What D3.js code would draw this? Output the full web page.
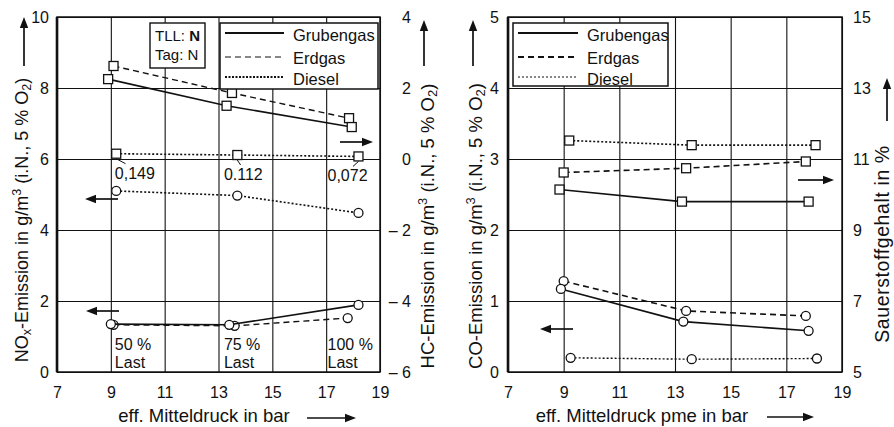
<!DOCTYPE html>
<html><head><meta charset="utf-8">
<script src="https://cdn.jsdelivr.net/npm/d3@7"></script>
<style>
body{margin:0;background:#fff}
svg{display:block}
text{font-family:"Liberation Sans",Arial,Helvetica,sans-serif;fill:#111}
</style>
</head><body>
<svg id="c" width="894" height="427"></svg>
<script>
// ---------- data ----------
const xTicks = [7, 9, 11, 13, 15, 17, 19];
const noxTicks = [0, 2, 4, 6, 8, 10];
const hcTicks = [-6, -4, -2, 0, 2, 4];
const coTicks = [0, 1, 2, 3, 4, 5];
const o2Ticks = [5, 7, 9, 11, 13, 15];
const seriesNames = ["Grubengas", "Erdgas", "Diesel"];

// left chart: NOx (left axis, circles)
const noxGrubPme = [9.0, 13.4, 18.2];
const noxGrub = [1.35, 1.33, 1.89];
const noxErdPme = [9.1, 13.6, 17.8];
const noxErd = [1.33, 1.30, 1.52];
const noxDieselPme = [9.2, 13.7, 18.2];
const noxDiesel = [5.10, 4.97, 4.48];
// left chart: HC (right axis, squares)
const hcGrubPme = [8.9, 13.3, 17.95];
const hcGrub = [2.25, 1.50, 0.90];
const hcErdPme = [9.1, 13.5, 17.85];
const hcErd = [2.62, 1.86, 1.15];
const hcDieselPme = [9.2, 13.7, 18.2];
const hcDiesel = [0.149, 0.112, 0.072];
const hcDieselLabels = ["0,149", "0.112", "0,072"];
const loadLabels = ["50 %", "75 %", "100 %"];
const loadPme = [9.15, 13.2, 17.05];

// right chart: CO (left axis, circles)
const coGrubPme = [8.9, 13.3, 17.8];
const coGrub = [1.17, 0.71, 0.58];
const coErdPme = [9.0, 13.4, 17.7];
const coErd = [1.28, 0.86, 0.79];
const coDieselPme = [9.25, 13.6, 18.1];
const coDiesel = [0.20, 0.18, 0.19];
// right chart: O2 (right axis, squares)
const o2GrubPme = [8.85, 13.25, 17.8];
const o2Grub = [10.14, 9.80, 9.80];
const o2ErdPme = [9.0, 13.4, 17.7];
const o2Erd = [10.62, 10.74, 10.93];
const o2DieselPme = [9.2, 13.6, 18.05];
const o2Diesel = [11.52, 11.39, 11.39];

// ---------- drawing ----------
const svg = d3.select("#c");
const TOP = 17, BOT = 372;
const ink = "#111";
const FF = "Liberation Sans, Arial, sans-serif";

function zip(xs, ys) { return xs.map((d, i) => [d, ys[i]]); }

function arrow(x1, y1, x2, y2, head = 11, w = 4.2) {
  const a = Math.atan2(y2 - y1, x2 - x1);
  const bx = x2 - head * Math.cos(a), by = y2 - head * Math.sin(a);
  svg.append("line").attr("x1", x1).attr("y1", y1).attr("x2", bx).attr("y2", by)
    .attr("stroke", ink).attr("stroke-width", 1.7);
  const px = -Math.sin(a) * w, py = Math.cos(a) * w;
  svg.append("path").attr("d", `M${x2},${y2}L${bx + px},${by + py}L${bx - px},${by - py}Z`).attr("fill", ink);
}

function panel(x0, x1, yLdom, yRdom, yLticks, yRticks, opts) {
  const x = d3.scaleLinear().domain([7, 19]).range([x0, x1]);
  const yl = d3.scaleLinear().domain(yLdom).range([BOT, TOP]);
  const yr = d3.scaleLinear().domain(yRdom).range([BOT, TOP]);
  const g = svg.append("g");

  g.append("g").attr("transform", `translate(0,${BOT})`)
    .call(d3.axisBottom(x).tickValues(xTicks).tickSize(-(BOT - TOP)).tickFormat(d3.format("d")))
    .call(a => a.select(".domain").remove())
    .call(a => a.selectAll("line").attr("stroke", ink).attr("stroke-width", 1.1))
    .call(a => a.selectAll("text").attr("y", 26).attr("dy", null)
      .attr("font-size", 16).attr("font-family", FF).attr("fill", ink));

  g.append("g").attr("transform", `translate(${x0},0)`)
    .call(d3.axisLeft(yl).tickValues(yLticks).tickSize(-(x1 - x0)).tickFormat(d3.format("d")))
    .call(a => a.select(".domain").remove())
    .call(a => a.selectAll("line").attr("stroke", ink).attr("stroke-width", 1.1))
    .call(a => a.selectAll("text").attr("x", -(x0 - opts.leftLabelEnd)).attr("dy", "0.36em")
      .attr("font-size", 16).attr("font-family", FF).attr("fill", ink));

  g.append("g").attr("transform", `translate(${x1},0)`)
    .call(d3.axisRight(yr).tickValues(yRticks).tickSize(0)
      .tickFormat(d => d < 0 ? "\u2013 " + Math.abs(d) : String(d)))
    .call(a => a.select(".domain").remove())
    .call(a => a.selectAll("text").attr("x", opts.rightLabelX - x1).attr("dy", "0.36em")
      .attr("text-anchor", opts.rightAnchor)
      .attr("font-size", 16).attr("font-family", FF).attr("fill", ink));

  g.append("rect").attr("x", x0).attr("y", TOP).attr("width", x1 - x0).attr("height", BOT - TOP)
    .attr("fill", "none").attr("stroke", ink).attr("stroke-width", 1.5);
  g.append("line").attr("x1", x0).attr("x2", x0).attr("y1", TOP).attr("y2", BOT)
    .attr("stroke", ink).attr("stroke-width", 2.6);

  return { x, yl, yr, g };
}

function series(p, y, xs, ys, marker, width, dash) {
  const line = d3.line().x(d => p.x(d[0])).y(d => y(d[1]));
  const pts = zip(xs, ys);
  p.g.append("path").attr("d", line(pts)).attr("fill", "none").attr("stroke", ink)
    .attr("stroke-width", width).attr("stroke-dasharray", dash);
  const m = p.g.append("g");
  pts.forEach(d => {
    if (marker === "square") {
      m.append("rect").attr("x", p.x(d[0]) - 4.5).attr("y", y(d[1]) - 4.5).attr("width", 9).attr("height", 9)
        .attr("fill", "#fff").attr("stroke", ink).attr("stroke-width", 1.3);
    } else {
      m.append("circle").attr("cx", p.x(d[0])).attr("cy", y(d[1])).attr("r", 4.5)
        .attr("fill", "#fff").attr("stroke", ink).attr("stroke-width", 1.3);
    }
  });
}

function legend(x0, y0, w, h, lineX0, lineX1, textX, styles) {
  svg.append("rect").attr("x", x0).attr("y", y0).attr("width", w).attr("height", h)
    .attr("fill", "#fff").attr("stroke", ink).attr("stroke-width", 1.5);
  const rows = [33, 57, 77];
  const base = [41, 64, 85];
  seriesNames.forEach((n, i) => {
    svg.append("line").attr("x1", lineX0).attr("x2", lineX1).attr("y1", rows[i]).attr("y2", rows[i])
      .attr("stroke", ink).attr("stroke-width", styles[i][0]).attr("stroke-dasharray", styles[i][1]);
    svg.append("text").attr("x", textX).attr("y", base[i]).attr("font-size", 16.5).text(n);
  });
}

function yTitle(x, yc, size, parts) {
  const t = svg.append("text").attr("transform", `translate(${x},${yc}) rotate(-90)`)
    .attr("text-anchor", "middle").attr("font-size", size);
  parts.forEach(([s, kind]) => {
    const ts = t.append("tspan").text(s);
    if (kind === "sub") ts.attr("font-size", size * 0.7).attr("baseline-shift", "-25%");
    if (kind === "sup") ts.attr("font-size", size * 0.7).attr("baseline-shift", "55%");
  });
}

// ===== Left panel =====
const L = panel(57, 380, [0, 10], [-6, 4], noxTicks, hcTicks,
  { leftLabelEnd: 49, rightLabelX: 411, rightAnchor: "end" });

series(L, L.yl, noxDieselPme, noxDiesel, "circle", 1.6, "2,2");
series(L, L.yl, noxErdPme, noxErd, "circle", 1.4, "6,4");
series(L, L.yl, noxGrubPme, noxGrub, "circle", 1.6, null);
series(L, L.yr, hcDieselPme, hcDiesel, "square", 1.6, "2,2");
series(L, L.yr, hcErdPme, hcErd, "square", 1.4, "6,4");
series(L, L.yr, hcGrubPme, hcGrub, "square", 1.6, null);

hcDieselLabels.forEach((s, i) => {
  const px = L.x(hcDieselPme[i]), py = L.yr(hcDiesel[i]);
  const lx = L.x(loadPme[i]);
  L.g.append("line").attr("x1", px).attr("y1", py + 5).attr("x2", (px + lx + 20) / 2).attr("y2", py + 10)
    .attr("stroke", ink).attr("stroke-width", 1);
  L.g.append("text").attr("x", lx).attr("y", py + 25).attr("font-size", 16).text(s);
});
loadLabels.forEach((s, i) => {
  L.g.append("text").attr("x", L.x(loadPme[i])).attr("y", 350).attr("font-size", 16).text(s);
  L.g.append("text").attr("x", L.x(loadPme[i])).attr("y", 368).attr("font-size", 16).text("Last");
});

svg.append("rect").attr("x", 150).attr("y", 23).attr("width", 55).attr("height", 45)
  .attr("fill", "#fff").attr("stroke", ink).attr("stroke-width", 1.4);
svg.append("text").attr("x", 155).attr("y", 41).attr("font-size", 15)
  .call(t => { t.append("tspan").text("TLL: "); t.append("tspan").attr("font-weight", "bold").text("N"); });
svg.append("text").attr("x", 155).attr("y", 60).attr("font-size", 15).text("Tag: N");

legend(220, 23, 158, 66, 225, 284, 293, [[2, null], [1.2, "6,4"], [2, "2,1.5"]]);

arrow(340, 142, 373, 142);
arrow(118, 199, 85, 199);
arrow(119, 311, 86, 311);

yTitle(28, 220, 18, [["NO", ""], ["x", "sub"], ["-Emission in g/m", ""], ["3", "sup"], [" (i.N., 5 % O", ""], ["2", "sub"], [")", ""]]);
yTitle(434, 226, 18.5, [["HC-Emission in g/m", ""], ["3", "sup"], [" (i.N., 5 % O", ""], ["2", "sub"], [")", ""]]);
arrow(24, 66, 24, 17);
arrow(424, 66, 424, 20);

svg.append("text").attr("x", 204).attr("y", 422).attr("text-anchor", "middle").attr("font-size", 18.5)
  .text("eff. Mitteldruck in bar");
arrow(307, 418, 356, 418);

// ===== Right panel =====
const R = panel(508, 842, [0, 5], [5, 15], coTicks, o2Ticks,
  { leftLabelEnd: 499, rightLabelX: 853, rightAnchor: "start" });

series(R, R.yl, coDieselPme, coDiesel, "circle", 1.4, "2,2");
series(R, R.yl, coErdPme, coErd, "circle", 1.6, "6,4");
series(R, R.yl, coGrubPme, coGrub, "circle", 1.6, null);
series(R, R.yr, o2DieselPme, o2Diesel, "square", 1.6, "2,2");
series(R, R.yr, o2ErdPme, o2Erd, "square", 1.6, "6,4");
series(R, R.yr, o2GrubPme, o2Grub, "square", 1.6, null);

legend(513, 23, 155, 63, 518, 578, 587, [[2, null], [2.2, "6,4"], [1, "2,2"]]);

arrow(798, 180, 834, 180);
arrow(573, 329, 540, 329);

yTitle(482, 226, 18.5, [["CO-Emission in g/m", ""], ["3", "sup"], [" (i.N., 5 % O", ""], ["2", "sub"], [")", ""]]);
svg.append("text").attr("transform", "translate(889,244) rotate(-90)").attr("text-anchor", "middle")
  .attr("font-size", 19.5).attr("letter-spacing", 0.6).text("Sauerstoffgehalt in %");
arrow(887, 121, 887, 78);
arrow(473, 66, 473, 20);

svg.append("text").attr("x", 642).attr("y", 422).attr("text-anchor", "middle").attr("font-size", 18.5)
  .text("eff. Mitteldruck pme in bar");
arrow(767, 417, 814, 417);
</script>
</body></html>
